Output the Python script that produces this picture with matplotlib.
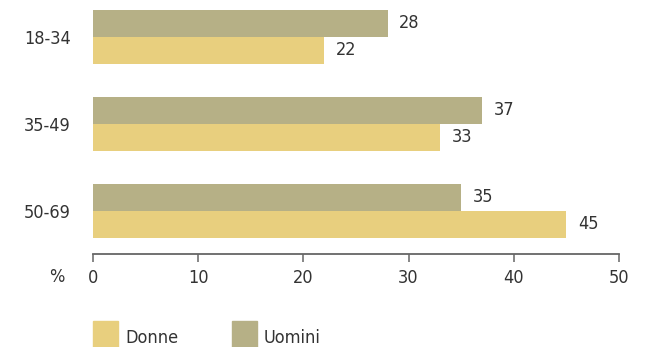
import matplotlib
matplotlib.use("Agg")
import matplotlib.pyplot as plt
from matplotlib import font_manager
from matplotlib.patches import Rectangle
import numpy as np

# font stretto: Noto Sans Condensed se c'è, altrimenti DejaVu Sans Condensed
font_file = None
for fam in ['Noto Sans', 'Open Sans', 'Roboto', 'DejaVu Sans']:
    for f in font_manager.fontManager.ttflist:
        if f.name == fam and f.stretch == 'condensed' and f.style == 'normal' \
                and f.weight in (400, 'normal', 'regular'):
            font_file = f.fname
            break
    if font_file:
        break

# dati
categorie = ['18-34', '35-49', '50-69']
uomini = [28, 37, 35]
donne = [22, 33, 45]
serie = ['Donne', 'Uomini']
colori = ['#e8cf7e', '#b6b086']
xticks = [0, 10, 20, 30, 40, 50]

testo = '#333333'
fs = 13


def fp():
    if font_file:
        return {'fontproperties': font_manager.FontProperties(fname=font_file, size=fs)}
    return {'fontsize': fs}


fig = plt.figure(figsize=(6.53, 3.47), dpi=100)
ax = fig.add_axes([93/653, (347-254)/347, (619-93)/653, (254-10)/347])

y = np.arange(len(categorie))
h = 0.31
ax.barh(y - h/2, uomini, height=h, color=colori[1])
ax.barh(y + h/2, donne, height=h, color=colori[0])

for i in range(len(categorie)):
    ax.text(uomini[i] + 1.1, y[i] - h/2, str(uomini[i]), va='center', ha='left',
            color=testo, **fp())
    ax.text(donne[i] + 1.1, y[i] + h/2, str(donne[i]), va='center', ha='left',
            color=testo, **fp())

ax.set_xlim(0, 50)
ax.set_ylim(2.5, -0.31)
ax.set_xticks(xticks)
ax.set_xticklabels([str(t) for t in xticks], color=testo, **fp())
ax.set_yticks(y)
ax.set_yticklabels(categorie, color=testo, **fp())
ax.tick_params(axis='y', length=0, pad=16)
ax.tick_params(axis='x', length=6, width=1.1, color='#666666', pad=5)
for s in ['top', 'right', 'left']:
    ax.spines[s].set_visible(False)
ax.spines['bottom'].set_color('#666666')
ax.spines['bottom'].set_linewidth(1.3)
ax.spines['bottom'].set_bounds(0, 50)

# simbolo %
fig.text(57/653, 1 - 277/347, '%', ha='center', va='center', color=testo, **fp())

# legenda
for nome, col, x0 in zip(serie, colori, [93, 232]):
    fig.patches.append(Rectangle((x0/653, 0), 25/653, 26/347, transform=fig.transFigure,
                                 color=col, figure=fig))
    fig.text((x0 + 32)/653, 1 - 338/347, nome, ha='left', va='center',
             color=testo, **fp())

fig.savefig('out.png', dpi=100)
